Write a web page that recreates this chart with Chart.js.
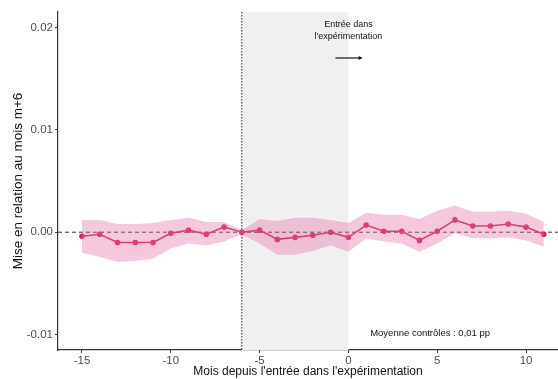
<!DOCTYPE html>
<html>
<head>
<meta charset="utf-8">
<script src="https://cdn.jsdelivr.net/npm/chart.js@4"></script>
<style>
  html, body { margin: 0; padding: 0; background: #fff; }
  #wrap { width: 558px; height: 379px; }
</style>
</head>
<body>
<div id="wrap"><canvas id="chart" width="558" height="379"></canvas></div>
<script>
// months relative to entry into the experiment
var months = [-15,-14,-13,-12,-11,-10,-9,-8,-7,-6,-5,-4,-3,-2,-1,0,1,2,3,4,5,6,7,8,9,10,11];
// estimate relative to month m+6
var estimate = [-0.0004,-0.0002,-0.0010,-0.0010,-0.0010,-0.0001,0.0002,-0.0002,0.0005,0.0000,
  0.0002,-0.0007,-0.0005,-0.0003,0.0000,-0.0005,0.0007,0.0001,0.0001,-0.0008,0.0001,0.0012,
  0.0006,0.0006,0.0008,0.0005,-0.0002];
// confidence band
var upper = [0.0012,0.0012,0.0008,0.0008,0.0009,0.0012,0.0014,0.0010,0.0010,0.0002,
  0.0013,0.0011,0.0014,0.0014,0.0012,0.0009,0.0019,0.0017,0.0017,0.0013,0.0021,0.0026,
  0.0020,0.0020,0.0021,0.0018,0.0010];
var lower = [-0.0020,-0.0024,-0.0029,-0.0028,-0.0026,-0.0016,-0.0011,-0.0013,-0.0009,-0.0002,
  -0.0011,-0.0022,-0.0022,-0.0018,-0.0013,-0.0019,-0.0006,-0.0009,-0.0011,-0.0019,-0.0011,-0.0001,
  -0.0006,-0.0006,-0.0005,-0.0008,-0.0014];
var xTicks = [-15,-10,-5,0,5,10];
var yTicks = [-0.01,0,0.01,0.02];

var lineColor = '#d3235f';
var bandColor = 'rgba(232, 110, 165, 0.38)';
var fontFamily = '"Liberation Sans", Arial, sans-serif';

function pts(arr) {
  return months.map(function(m, i) { return {x: m, y: arr[i]}; });
}

var decor = {
  id: 'decor',
  beforeDatasetsDraw: function(chart) {
    var ctx = chart.ctx, xs = chart.scales.x, ys = chart.scales.y, a = chart.chartArea;
    ctx.save();
    // entry window shading
    var x0 = xs.getPixelForValue(-6), x1 = xs.getPixelForValue(0);
    ctx.fillStyle = '#f0f0f0';
    ctx.fillRect(x0, a.top, x1 - x0, a.bottom - a.top);
    // horizontal reference line at 0
    var y0 = ys.getPixelForValue(0);
    ctx.strokeStyle = '#333';
    ctx.lineWidth = 1;
    ctx.setLineDash([4, 3]);
    ctx.beginPath();
    ctx.moveTo(a.left, y0);
    ctx.lineTo(a.right, y0);
    ctx.stroke();
    // vertical dotted line at -6
    ctx.setLineDash([1.5, 1.5]);
    ctx.strokeStyle = '#222';
    ctx.beginPath();
    ctx.moveTo(x0, a.top);
    ctx.lineTo(x0, a.bottom);
    ctx.stroke();
    ctx.restore();
  },
  afterDatasetsDraw: function(chart) {
    var ctx = chart.ctx, xs = chart.scales.x, ys = chart.scales.y;
    ctx.save();
    ctx.fillStyle = '#111';
    ctx.textAlign = 'center';
    ctx.textBaseline = 'middle';
    ctx.font = '9px ' + fontFamily;
    var cx = xs.getPixelForValue(0);
    ctx.fillText('Entrée dans', cx, 25);
    ctx.fillText("l'expérimentation", cx, 37);
    // arrow
    var ay = 58, ax0 = xs.getPixelForValue(-0.73), ax1 = xs.getPixelForValue(0.8);
    ctx.strokeStyle = '#111';
    ctx.lineWidth = 1.2;
    ctx.beginPath();
    ctx.moveTo(ax0, ay);
    ctx.lineTo(ax1 - 3, ay);
    ctx.stroke();
    ctx.beginPath();
    ctx.moveTo(ax1, ay);
    ctx.lineTo(ax1 - 4, ay - 2);
    ctx.lineTo(ax1 - 4, ay + 2);
    ctx.closePath();
    ctx.fill();
    ctx.font = '9.5px ' + fontFamily;
    ctx.fillText('Moyenne contrôles : 0,01 pp', xs.getPixelForValue(4.6), ys.getPixelForValue(-0.00985));
    ctx.restore();
  }
};

new Chart(document.getElementById('chart'), {
  type: 'line',
  data: {
    datasets: [
      { data: pts(upper), borderWidth: 0, pointRadius: 0, fill: false, backgroundColor: bandColor },
      { data: pts(lower), borderWidth: 0, pointRadius: 0, fill: '-1', backgroundColor: bandColor },
      { data: pts(estimate), borderColor: lineColor, borderWidth: 1.6, pointRadius: 2,
        pointBackgroundColor: lineColor, pointBorderColor: lineColor, fill: false }
    ]
  },
  plugins: [decor],
  options: {
    responsive: false,
    animation: false,
    layout: { autoPadding: false, padding: { top: 12, right: 0, left: 0, bottom: 0 } },
    plugins: { legend: { display: false }, tooltip: { enabled: false } },
    scales: {
      x: {
        type: 'linear', min: -16.35, max: 11.8,
        afterBuildTicks: function(s) { s.ticks = xTicks.map(function(v) { return {value: v}; }); },
        afterFit: function(s) { s.height = 29; },
        grid: { drawOnChartArea: false, drawTicks: true, tickLength: 3, color: '#333' },
        border: { display: true, color: '#333', width: 1.2 },
        ticks: { color: '#4d4d4d', font: { size: 11.5, family: fontFamily }, padding: 1, maxRotation: 0 },
        title: { display: true, text: "Mois depuis l'entrée dans l'expérimentation", color: '#111',
          font: { size: 12, family: fontFamily }, padding: { top: 0, bottom: 0 } }
      },
      y: {
        min: -0.0115, max: 0.0215,
        afterBuildTicks: function(s) { s.ticks = yTicks.map(function(v) { return {value: v}; }); },
        afterFit: function(s) { s.width = 58; },
        grid: { drawOnChartArea: false, drawTicks: true, tickLength: 3, color: '#333' },
        border: { display: true, color: '#333', width: 1.2 },
        ticks: { color: '#4d4d4d', font: { size: 11.5, family: fontFamily }, padding: 2,
          callback: function(v) { return v.toFixed(2); } },
        title: { display: true, text: 'Mise en relation au mois m+6', color: '#111',
          font: { size: 13.5, family: fontFamily }, padding: { top: 10, bottom: 0 } }
      }
    }
  }
});
</script>
</body>
</html>
